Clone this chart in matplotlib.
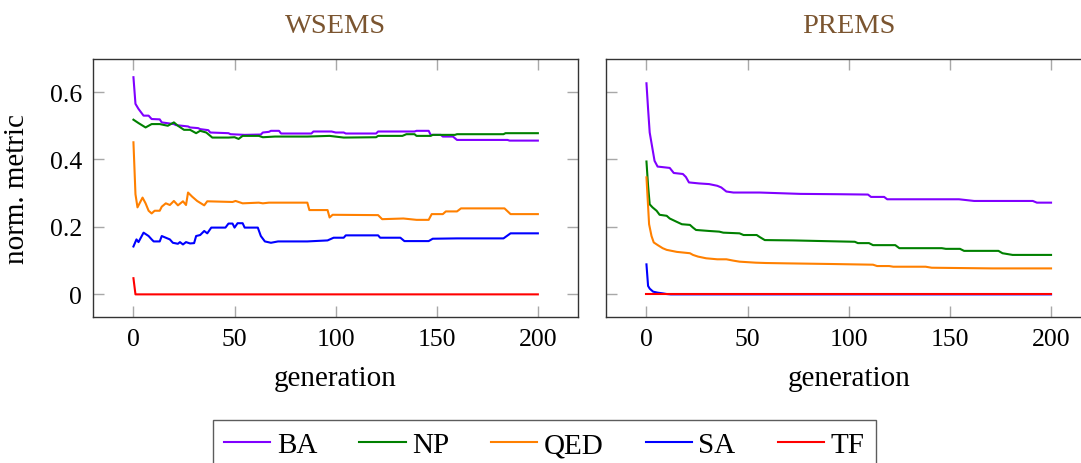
import matplotlib
matplotlib.use("Agg")
import matplotlib.pyplot as plt

plt.rcParams['font.family'] = ['Liberation Serif', 'DejaVu Serif']
plt.rcParams['mathtext.fontset'] = 'stix'

# ---- data: (generation, normalised metric) samples per method ----
series_names = ["BA", "NP", "QED", "SA", "TF"]
series_colors = ["#8000ff", "#008000", "#ff8000", "#0000ff", "#ff0000"]
panel_titles = ["WSEMS", "PREMS"]
x_ticks = [0, 50, 100, 150, 200]
y_ticks = [0, 0.2, 0.4, 0.6]
y_tick_labels = ["0", "0.2", "0.4", "0.6"]

# WSEMS
wsems_ba_gen = [0, 1, 2.5, 5, 7.5, 9, 13, 14, 20, 21, 27, 28, 32, 33, 37, 38, 47, 48, 55, 63, 64, 67, 68, 72, 73,
                88, 89, 98, 100, 104, 105, 120, 121, 139, 140, 146, 147, 152, 153, 158, 160, 185, 186, 200]
wsems_ba = [0.644, 0.565, 0.55, 0.53, 0.53, 0.52, 0.519, 0.51, 0.505, 0.502, 0.498, 0.495, 0.493, 0.49, 0.487,
            0.48, 0.478, 0.475, 0.473, 0.474, 0.48, 0.482, 0.485, 0.485, 0.477, 0.477, 0.483, 0.483, 0.48, 0.48,
            0.477, 0.477, 0.483, 0.483, 0.485, 0.485, 0.473, 0.473, 0.468, 0.468, 0.458, 0.458, 0.456, 0.456]

wsems_np_gen = [0, 2.5, 6, 9, 13, 17, 20, 22, 25, 28, 31, 33, 36, 39, 47, 50, 52, 54, 62, 64, 70, 86, 97, 104,
                120, 121, 133, 135, 139, 140, 147, 148, 159, 160, 183, 184, 200]
wsems_np = [0.518, 0.508, 0.495, 0.505, 0.505, 0.5, 0.51, 0.5, 0.488, 0.488, 0.478, 0.485, 0.48, 0.465, 0.465,
            0.466, 0.461, 0.47, 0.47, 0.466, 0.468, 0.468, 0.47, 0.465, 0.466, 0.47, 0.47, 0.475, 0.475, 0.47,
            0.47, 0.473, 0.473, 0.475, 0.475, 0.478, 0.478]

wsems_qed_gen = [0, 1, 2, 4.5, 6, 7.5, 9, 10.5, 13, 14, 16, 18, 20, 22, 24.5, 26, 27, 29, 31.5, 35, 36.5, 49,
                 50.5, 54, 62, 64, 67, 86, 87, 96, 97, 98.5, 121, 123, 133.5, 140, 146, 147.5, 153, 154.5, 160,
                 162, 183.5, 186.5, 200]
wsems_qed = [0.451, 0.297, 0.258, 0.287, 0.27, 0.248, 0.24, 0.248, 0.248, 0.26, 0.27, 0.265, 0.277, 0.264,
             0.276, 0.265, 0.302, 0.29, 0.277, 0.264, 0.276, 0.274, 0.277, 0.27, 0.272, 0.27, 0.272, 0.272, 0.25,
             0.25, 0.228, 0.236, 0.235, 0.223, 0.225, 0.221, 0.221, 0.238, 0.238, 0.246, 0.246, 0.255, 0.255,
             0.238, 0.238]

wsems_sa_gen = [0, 1.5, 2.5, 5, 7.5, 9, 10, 13, 14, 18, 19.5, 22, 23, 24.5, 26, 28, 30, 31, 33, 35, 36.5, 38.5,
                45.5, 47, 49, 50, 51.5, 54, 55, 61.5, 63, 65, 68, 71.5, 86, 96, 99, 104, 105, 121, 122, 132, 134,
                146, 148, 160, 183, 186.5, 200]
wsems_sa = [0.142, 0.163, 0.155, 0.183, 0.173, 0.163, 0.157, 0.157, 0.173, 0.163, 0.153, 0.15, 0.155, 0.148,
            0.155, 0.151, 0.152, 0.173, 0.176, 0.188, 0.181, 0.198, 0.198, 0.21, 0.21, 0.198, 0.211, 0.211, 0.198,
            0.198, 0.173, 0.157, 0.153, 0.157, 0.157, 0.16, 0.168, 0.168, 0.175, 0.175, 0.168, 0.168, 0.158,
            0.158, 0.165, 0.166, 0.166, 0.181, 0.181]

wsems_tf_gen = [0, 1, 200]
wsems_tf = [0.048, 0.0, 0.0]

# PREMS
prems_ba_gen = [0, 0.8, 1.6, 3, 4, 5.5, 11.5, 13.5, 18, 19.5, 21, 26, 31, 35, 37, 39.5, 43, 56, 76, 95, 109.5,
                111, 117.5, 119, 154.5, 162, 191, 193, 200]
prems_ba = [0.626, 0.55, 0.48, 0.431, 0.396, 0.379, 0.375, 0.36, 0.357, 0.348, 0.332, 0.329, 0.327, 0.322,
            0.317, 0.305, 0.302, 0.302, 0.298, 0.297, 0.296, 0.289, 0.289, 0.282, 0.282, 0.277, 0.277, 0.272,
            0.272]

prems_np_gen = [0, 0.8, 1.6, 3, 5, 6.5, 10, 11.5, 15, 17.5, 21.5, 23, 24.5, 31, 36, 38, 46, 48, 54.5, 56, 58.5,
                72.5, 95, 103, 104.5, 110, 112, 123, 125, 146, 148, 155, 157, 174, 176, 181, 200]
prems_np = [0.394, 0.322, 0.267, 0.258, 0.248, 0.236, 0.233, 0.225, 0.215, 0.208, 0.206, 0.198, 0.191, 0.188,
            0.186, 0.183, 0.181, 0.176, 0.176, 0.17, 0.161, 0.16, 0.157, 0.156, 0.152, 0.152, 0.146, 0.146,
            0.137, 0.137, 0.135, 0.135, 0.129, 0.129, 0.122, 0.117, 0.117]

prems_qed_gen = [0, 0.8, 1.3, 2.5, 3.6, 5.6, 8, 10, 15, 21.5, 23, 25.5, 29.5, 35, 39.5, 43, 46, 54, 59, 69, 92,
                 112, 114, 120, 122, 138, 141, 171, 200]
prems_qed = [0.347, 0.262, 0.208, 0.173, 0.154, 0.146, 0.137, 0.132, 0.126, 0.122, 0.117, 0.112, 0.107, 0.104,
             0.104, 0.1, 0.097, 0.094, 0.093, 0.092, 0.09, 0.088, 0.084, 0.084, 0.082, 0.082, 0.079, 0.077,
             0.077]

prems_sa_gen = [0, 0.8, 1.6, 3.3, 5.6, 8, 10, 12, 200]
prems_sa = [0.089, 0.025, 0.017, 0.008, 0.005, 0.003, 0.001, 0.0, 0.0]

prems_tf_gen = [0, 200]
prems_tf = [0.0, 0.0]

panels = [
    [(wsems_ba_gen, wsems_ba), (wsems_np_gen, wsems_np), (wsems_qed_gen, wsems_qed),
     (wsems_sa_gen, wsems_sa), (wsems_tf_gen, wsems_tf)],
    [(prems_ba_gen, prems_ba), (prems_np_gen, prems_np), (prems_qed_gen, prems_qed),
     (prems_sa_gen, prems_sa), (prems_tf_gen, prems_tf)],
]

# ---- layout ----
W, H = 1081, 464
fig = plt.figure(figsize=(W / 100, H / 100), dpi=100)


def rect(left, top, right, bottom):
    return [left / W, 1 - bottom / H, (right - left) / W, (bottom - top) / H]


axes = [fig.add_axes(rect(93, 60, 578.3, 318.3)),
        fig.add_axes(rect(606, 60, 1091.5, 318.3))]

title_color = "#7b5530"
lines = []
for i, (ax, data) in enumerate(zip(axes, panels)):
    for (gx, gy), name, col in zip(data, series_names, series_colors):
        ln, = ax.plot(gx, gy, color=col, lw=1.5, label=name, solid_joinstyle="round")
        if i == 0:
            lines.append(ln)
    ax.set_xlim(-20, 220)
    ax.set_ylim(-0.068, 0.698)
    ax.set_xticks(x_ticks)
    ax.set_yticks(y_ticks)
    ax.tick_params(direction="in", length=8, width=1.0, color="#a8a8a8",
                   top=True, right=True, labelsize=18.5, pad=8, labelcolor="black")
    for s in ax.spines.values():
        s.set_color("#333333")
        s.set_linewidth(1.0)
    ax.set_title(panel_titles[i], fontsize=20.5, color=title_color, pad=19.5)
    ax.set_xlabel("generation", fontsize=21)
    ax.xaxis.set_label_coords(0.5, -0.185)
    if i == 0:
        ax.set_yticklabels(y_tick_labels)
        ax.set_ylabel("norm. metric", fontsize=21)
        ax.yaxis.set_label_coords(-0.13, 0.5)
    else:
        ax.set_yticklabels([])

leg = fig.legend(lines, series_names, loc="upper left",
                 bbox_to_anchor=(212.6 / W, 1 - 421.3 / H), ncol=5, fontsize=21,
                 frameon=True, fancybox=False, edgecolor="#333333",
                 handlelength=1.58, handletextpad=0.22, columnspacing=1.45,
                 borderpad=0.4, borderaxespad=0)
leg.get_frame().set_linewidth(1.0)

fig.savefig("out.png", dpi=100)
